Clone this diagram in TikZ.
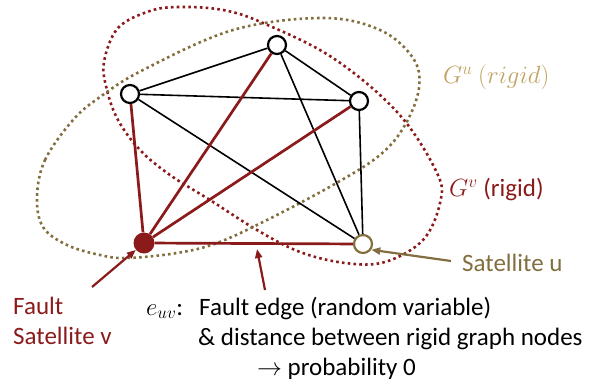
\documentclass[tikz,border=0pt]{standalone}
\usepackage{fontspec}
\setmainfont{Carlito}
\usepackage{xcolor}
\usepackage{tikz}
\usetikzlibrary{positioning,arrows.meta}
\definecolor{faultred}{RGB}{139,26,26}
\definecolor{olivegold}{RGB}{130,110,62}
\definecolor{lightgold}{RGB}{192,162,98}

\begin{document}
\begin{tikzpicture}[
x=1pt,y=-1pt,
sat/.style={circle,draw,line width=2.2pt,fill=white,minimum size=18pt,inner sep=0pt},
faultsat/.style={circle,fill=faultred,minimum size=21pt,inner sep=0pt},
edge/.style={line width=1.6pt},
faultedge/.style={faultred,line width=2.7pt},
ring/.style={line width=2.6pt,dash pattern=on 2.6pt off 3.2pt},
arrow/.style={-{Triangle[length=9pt,width=7pt]},line width=2.2pt},
lbl/.style={font=\fontsize{25}{30}\selectfont,inner sep=0pt}
]
\useasboundingbox (0,0) rectangle (589,386);
\draw[ring,faultred] plot[smooth cycle,tension=0.6] coordinates {
(180,7) (223,10) (263,23) (333,58) (398,113) (437,173) (440,203) (423,240) (385,262) (345,263) (300,252) (257,230) (210,200) (170,175) (140,150) (118,120) (107,90) (104,62) (118,28) (150,11)};
\draw[ring,olivegold] plot[smooth cycle,tension=0.6] coordinates {
(37,197) (45,160) (73,120) (100,97) (143,70) (233,30) (323,18) (380,30) (413,58) (419,88) (405,125) (380,155) (333,185) (267,220) (217,243) (177,253) (127,258) (100,255) (67,245) (43,227)};
\node[sat] (top) at (277,45) {};
\node[sat] (left) at (130,94) {};
\node[sat] (right) at (359,101) {};
\node[faultsat] (v) at (144,243) {};
\node[sat,draw=olivegold] (u) at (363,244) {};
\draw[edge] (top) -- (left);
\draw[edge] (top) -- (right);
\draw[edge] (left) -- (right);
\draw[edge] (left) -- (u);
\draw[edge] (top) -- (u);
\draw[edge] (right) -- (u);
\draw[faultedge] (v) -- (left);
\draw[faultedge] (v) -- (top);
\draw[faultedge] (v) -- (right);
\draw[faultedge] (v) -- (u);
\node[lbl,text=lightgold,anchor=west] (gulbl) at (443,77) {$G^u\ (rigid)$};
\node[lbl,text=faultred,anchor=west] (gvlbl) at (449,190) {$G^v$ (rigid)};
\node[lbl,text=olivegold,anchor=west] (ulbl) at (462,263) {Satellite u};
\node[lbl,text=faultred,align=left,anchor=west] (faultlbl) at (13,321) {Fault\\Satellite v};
\node[lbl,anchor=base west] (euv) at (146,315) {$e_{uv}$:};
\node[lbl,anchor=base west] (desc1) at (199,315) {Fault edge (random variable)};
\node[lbl,anchor=base west] (desc2) at (198,345) {\& distance between rigid graph nodes};
\node[lbl,anchor=base west] (desc3) at (257,375) {$\rightarrow$ probability 0};
\coordinate (vtail) at (92,287);
\coordinate (etail) at (265,290);
\coordinate (ehead) at (257,249);
\coordinate (utail) at (451,261);
\draw[arrow,faultred] (vtail) -- (v);
\draw[arrow,faultred] (etail) -- (ehead);
\draw[arrow,olivegold] (utail) -- (u.-35);
\end{tikzpicture}
\end{document}
